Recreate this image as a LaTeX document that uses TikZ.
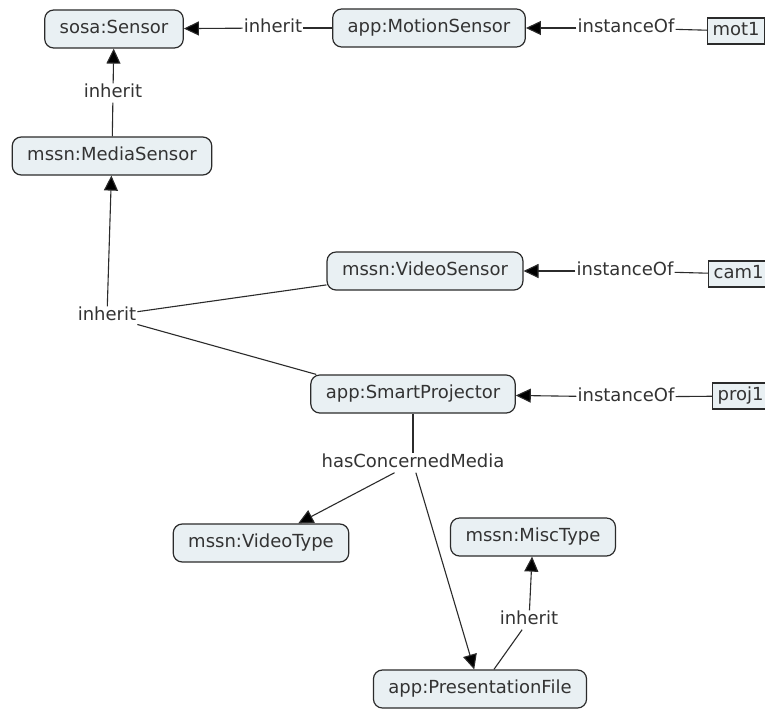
\documentclass[tikz,border=0pt]{standalone}
\usepackage{fontspec}
\setmainfont{DejaVu Sans}
\usetikzlibrary{arrows.meta}
\definecolor{boxfill}{HTML}{E9F0F3}
\definecolor{ink}{HTML}{2B2B2B}
\definecolor{txt}{HTML}{333333}
\tikzset{
  concept/.style={draw=ink, line width=1.2pt, fill=boxfill, rounded corners=9pt,
    inner xsep=15pt, inner ysep=10.5pt, text height=13pt, text depth=4pt,
    font=\fontsize{18}{20}\selectfont, text=txt},
  inst/.style={draw=ink, line width=1.2pt, fill=boxfill, anchor=west,
    inner xsep=5pt, inner ysep=4.5pt, text height=13pt, text depth=4pt,
    font=\fontsize{18}{20}\selectfont, text=txt},
  lab/.style={inner sep=1pt, text height=13pt, text depth=4pt,
    font=\fontsize{18}{20}\selectfont, text=txt},
  conn/.style={draw=ink, line width=1.1pt},
  arr/.style={conn, -{Triangle[length=15pt,width=14pt,fill=black]}},
}
\begin{document}
\begin{tikzpicture}[x=1pt,y=-1pt]
\useasboundingbox (0,0) rectangle (765,709);
\clip (0,0) rectangle (765,709);
\fill[white] (0,0) rectangle (765,709);

% concepts
\node[concept] (sosa) at (114,29) {sosa:Sensor};
\node[concept] (motion) at (429,28) {app:MotionSensor};
\node[concept] (media) at (112,156) {mssn:MediaSensor};
\node[concept] (vsens) at (425,271) {mssn:VideoSensor};
\node[concept] (sproj) at (413,394) {app:SmartProjector};
\node[concept] (vtype) at (261,543) {mssn:VideoType};
\node[concept] (mtype) at (533,537) {mssn:MiscType};
\node[concept] (pfile) at (480,689) {app:PresentationFile};

% instances
\node[inst] (mot1) at (707,31) {mot1};
\node[inst] (cam1) at (708,274) {cam1};
\node[inst] (proj1) at (712,396) {proj1};

% link labels
\node[lab] (l1) at (273,28) {inherit};
\node[lab] (l2) at (626,28) {instanceOf};
\node[lab] (l3) at (113,93) {inherit};
\node[lab] (l4) at (625,271) {instanceOf};
\node[lab] (l5) at (107,316) {inherit};
\node[lab] (l6) at (626,397) {instanceOf};
\node[lab] (l7) at (413,463) {hasConcernedMedia};
\node[lab] (l8) at (529,620) {inherit};

% connectors
\draw[conn] (motion) -- (l1);
\draw[arr] (l1) -- (sosa);
\draw[conn] (mot1) -- (l2);
\draw[arr] (l2) -- (motion);
\draw[conn] (media) -- (l3);
\draw[arr] (l3) -- (sosa);
\draw[conn] (vsens) -- (l5);
\draw[conn] ([xshift=6pt]sproj.north west) -- (l5);
\draw[arr] (l5) -- (media);
\draw[conn] (cam1) -- (l4);
\draw[arr] (l4) -- (vsens);
\draw[conn] (proj1) -- (l6);
\draw[arr] (l6) -- (sproj);
\draw[conn] (sproj) -- (l7);
\draw[arr] (l7) -- (vtype);
\draw[arr] (l7) -- (pfile);
\draw[conn] (pfile) -- (l8);
\draw[arr] (l8) -- (mtype);
\end{tikzpicture}
\end{document}
